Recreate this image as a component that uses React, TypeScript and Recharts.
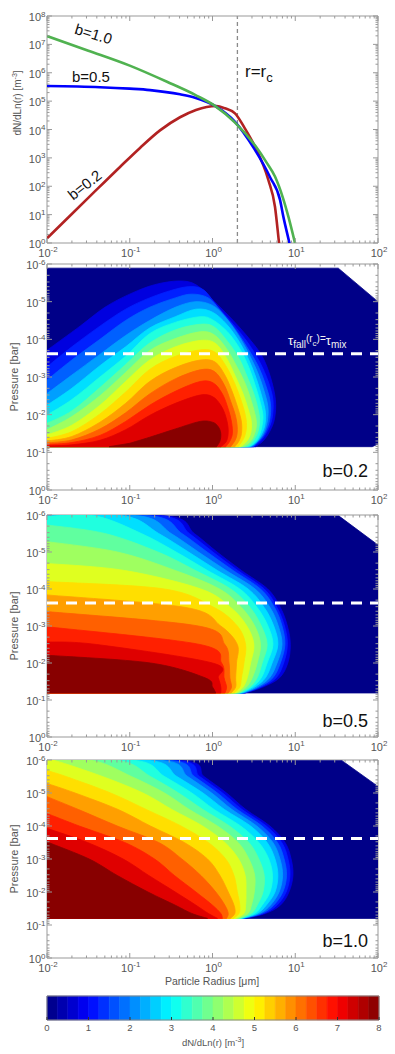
import React from 'react';
import { ComposedChart, Scatter, XAxis, YAxis, ReferenceArea } from 'recharts';

const FONT = '"Liberation Sans", Arial, Helvetica, sans-serif';
const LABEL = '#555';
const AXIS = '#999';
const _ = null;

// ---------------- Top panel: size distributions (r [um], dN/dLn(r) [m^-3]) ----------------
const rB10 = [0.01, 0.0316, 0.1, 0.282, 0.617, 1.07, 1.86, 3.31, 4.47, 5.69, 7.08, 8.26, 9.93, 10.7];
const nB10 = [1.97e7, 6.0e6, 1.78e6, 4.8e5, 1.66e5, 6.8e4, 1.78e4, 2.6e3, 7.1e2, 2.2e2, 40, 8.5, 1, 0.4];
const rB05 = [0.01, 0.0437, 0.1, 0.176, 0.405, 0.615, 1.07, 1.86, 3.16, 5.0, 6.55, 7.18, 8.5, 9.1];
const nB05 = [3.4e5, 3.1e5, 2.75e5, 2.45e5, 1.74e5, 1.32e5, 6.8e4, 1.9e4, 2.2e3, 200, 33, 8.5, 1, 0.4];
const rB02 = [0.01, 0.0178, 0.0331, 0.0762, 0.133, 0.232, 0.405, 0.631, 0.851, 1.12, 1.41, 1.87, 2.45, 3.27, 4.73, 5.69, 6.37, 6.6];
const nB02 = [1.46, 7.6, 44.7, 479, 2.24e3, 9.3e3, 2.7e4, 4.9e4, 6.2e4, 6.7e4, 5.6e4, 3.7e4, 1.12e4, 2.45e3, 166, 19, 1, 0.4];
const rCrit = 2.0;

// ---------------- Contour panels (log10 r [um], log10 P [bar]) ----------------
const levels = [0.5, 1, 1.5, 2, 2.5, 3, 3.5, 4, 4.5, 5, 5.5, 6, 6.5, 7, 7.5];
const tauLogP = -3.62;

// b = 0.2 : arch-shaped contours (polygons)
const b02Base = [[-2, -5.89], [1.52, -5.89], [2, -5.0], [2, -1.22], [1.93, -1.15], [-2, -1.15]];
const b02Contours = [
  [[-2,-1.15],[-2,-3.71],[-1.6,-4.35],[-1.3,-4.85],[-1.0,-5.2],[-0.7,-5.45],[-0.4,-5.55],[-0.2,-5.45],[0.0,-5.05],[0.25,-4.5],[0.45,-4.0],[0.6,-3.55],[0.7,-3.0],[0.76,-2.4],[0.75,-1.9],[0.69,-1.55],[0.61,-1.3],[0.52,-1.15]],
  [[-2,-1.15],[-2,-3.27],[-1.7,-3.8],[-1.36,-4.35],[-1.05,-4.8],[-0.76,-5.1],[-0.45,-5.33],[-0.25,-5.4],[-0.1,-5.3],[0.05,-4.9],[0.25,-4.4],[0.43,-3.9],[0.57,-3.4],[0.67,-2.9],[0.73,-2.4],[0.72,-1.9],[0.66,-1.55],[0.58,-1.3],[0.50,-1.15]],
  [[-2,-1.15],[-2,-2.92],[-1.7,-3.45],[-1.36,-4.0],[-1.05,-4.5],[-0.76,-4.85],[-0.45,-5.1],[-0.25,-5.2],[-0.05,-5.1],[0.1,-4.75],[0.28,-4.25],[0.43,-3.75],[0.55,-3.3],[0.64,-2.8],[0.7,-2.3],[0.69,-1.85],[0.63,-1.5],[0.56,-1.3],[0.49,-1.15]],
  [[-2,-1.15],[-2,-2.56],[-1.7,-3.05],[-1.36,-3.6],[-1.05,-4.1],[-0.76,-4.5],[-0.45,-4.85],[-0.2,-5.0],[0.0,-4.9],[0.15,-4.6],[0.3,-4.15],[0.43,-3.65],[0.54,-3.15],[0.62,-2.65],[0.67,-2.2],[0.66,-1.8],[0.61,-1.48],[0.54,-1.28],[0.47,-1.15]],
  [[-2,-1.15],[-2,-2.25],[-1.7,-2.7],[-1.36,-3.3],[-1.05,-3.8],[-0.76,-4.3],[-0.45,-4.6],[-0.2,-4.8],[0.0,-4.72],[0.17,-4.4],[0.32,-3.95],[0.44,-3.45],[0.53,-2.95],[0.6,-2.45],[0.64,-2.05],[0.63,-1.7],[0.58,-1.43],[0.52,-1.25],[0.45,-1.15]],
  [[-2,-1.15],[-2,-1.99],[-1.7,-2.4],[-1.36,-3.0],[-1.05,-3.55],[-0.76,-4.15],[-0.45,-4.45],[-0.15,-4.6],[0.0,-4.52],[0.18,-4.2],[0.33,-3.75],[0.44,-3.25],[0.52,-2.75],[0.58,-2.3],[0.61,-1.95],[0.59,-1.62],[0.55,-1.38],[0.49,-1.22],[0.43,-1.15]],
  [[-2,-1.15],[-2,-1.77],[-1.7,-2.1],[-1.36,-2.72],[-1.05,-3.33],[-0.76,-3.9],[-0.45,-4.25],[-0.15,-4.4],[0.02,-4.33],[0.18,-3.95],[0.32,-3.5],[0.42,-3.0],[0.5,-2.55],[0.55,-2.15],[0.57,-1.85],[0.55,-1.55],[0.5,-1.33],[0.45,-1.2],[0.40,-1.15]],
  [[-2,-1.15],[-2,-1.60],[-1.7,-1.95],[-1.36,-2.5],[-1.05,-3.12],[-0.76,-3.7],[-0.45,-4.02],[-0.15,-4.2],[0.02,-4.12],[0.17,-3.75],[0.3,-3.25],[0.4,-2.8],[0.47,-2.35],[0.52,-1.95],[0.53,-1.7],[0.5,-1.45],[0.45,-1.27],[0.37,-1.15]],
  [[-2,-1.15],[-2,-1.46],[-1.7,-1.72],[-1.36,-2.25],[-1.05,-2.88],[-0.76,-3.45],[-0.45,-3.8],[-0.15,-3.97],[0.03,-3.9],[0.17,-3.5],[0.28,-3.0],[0.37,-2.55],[0.43,-2.15],[0.47,-1.8],[0.46,-1.5],[0.41,-1.28],[0.34,-1.15]],
  [[-2,-1.15],[-2,-1.37],[-1.7,-1.55],[-1.36,-2.02],[-1.05,-2.6],[-0.76,-3.2],[-0.45,-3.55],[-0.15,-3.72],[0.03,-3.66],[0.16,-3.3],[0.27,-2.82],[0.35,-2.35],[0.4,-1.95],[0.41,-1.65],[0.38,-1.38],[0.31,-1.15]],
  [[-2,-1.15],[-2,-1.30],[-1.7,-1.42],[-1.36,-1.8],[-1.05,-2.3],[-0.76,-2.88],[-0.45,-3.25],[-0.15,-3.45],[0.03,-3.4],[0.15,-3.05],[0.24,-2.6],[0.31,-2.15],[0.35,-1.8],[0.35,-1.5],[0.32,-1.3],[0.27,-1.15]],
  [[-2,-1.15],[-2,-1.25],[-1.7,-1.33],[-1.36,-1.62],[-1.05,-2.05],[-0.76,-2.55],[-0.45,-2.95],[-0.15,-3.19],[0.02,-3.15],[0.14,-2.8],[0.22,-2.35],[0.28,-1.95],[0.3,-1.6],[0.28,-1.35],[0.22,-1.15]],
  [[-2,-1.15],[-2,-1.21],[-1.7,-1.26],[-1.36,-1.45],[-1.05,-1.82],[-0.76,-2.25],[-0.45,-2.62],[-0.15,-2.88],[0.01,-2.84],[0.12,-2.55],[0.19,-2.15],[0.23,-1.8],[0.24,-1.5],[0.21,-1.3],[0.16,-1.15]],
  [[-2,-1.15],[-2,-1.17],[-1.7,-1.2],[-1.36,-1.32],[-1.05,-1.6],[-0.76,-1.98],[-0.45,-2.3],[-0.15,-2.52],[0.0,-2.48],[0.1,-2.25],[0.16,-1.95],[0.19,-1.6],[0.17,-1.3],[0.1,-1.15]],
  [[-1.25,-1.15],[-1.0,-1.24],[-0.76,-1.4],[-0.45,-1.62],[-0.15,-1.82],[0.0,-1.8],[0.07,-1.68],[0.1,-1.5],[0.09,-1.3],[0.05,-1.15]],
];

// b = 0.5 : crossing radius (log r) of each level along pressure rows
const b05Base = [[-2, -5.97], [1.53, -5.97], [2, -5.19], [2, -1.19], [-2, -1.19]];
const b05RowLogP = [-5.97, -5.5, -5.0, -4.5, -4.0, -3.5, -3.0, -2.5, -2.0, -1.6, -1.35, -1.19];
const b05EntryLogP = [_, _, _, _, _, _, -5.73, -5.28, -4.69, -4.20, -3.84, -3.39, -2.98, -2.57, -2.21];
const b05LogR = [
  [-0.54, -0.22, 0.055, 0.35, 0.667, 0.82, 0.905, 0.94, 0.91, 0.81, 0.61, 0.395],
  [-0.60, -0.28, 0.005, 0.305, 0.625, 0.78, 0.87, 0.905, 0.86, 0.77, 0.59, 0.39],
  [-0.72, -0.37, -0.065, 0.25, 0.58, 0.75, 0.84, 0.875, 0.82, 0.73, 0.565, 0.38],
  [-0.87, -0.50, -0.17, 0.165, 0.515, 0.695, 0.795, 0.84, 0.78, 0.69, 0.54, 0.37],
  [-1.06, -0.65, -0.29, 0.06, 0.43, 0.625, 0.74, 0.79, 0.72, 0.64, 0.51, 0.355],
  [-1.41, -0.86, -0.44, -0.06, 0.33, 0.54, 0.67, 0.73, 0.66, 0.59, 0.48, 0.34],
  [_, -1.30, -0.66, -0.205, 0.22, 0.455, 0.59, 0.66, 0.60, 0.54, 0.45, 0.325],
  [_, _, -1.15, -0.45, 0.085, 0.35, 0.51, 0.58, 0.54, 0.48, 0.41, 0.31],
  [_, _, _, -1.06, -0.14, 0.22, 0.415, 0.50, 0.46, 0.42, 0.37, 0.285],
  [_, _, _, _, -0.58, 0.02, 0.30, 0.40, 0.38, 0.35, 0.33, 0.26],
  [_, _, _, _, _, -0.32, 0.10, 0.30, 0.29, 0.28, 0.28, 0.225],
  [_, _, _, _, _, _, -0.17, 0.15, 0.20, 0.21, 0.23, 0.19],
  [_, _, _, _, _, _, _, -0.15, 0.11, 0.14, 0.17, 0.15],
  [_, _, _, _, _, _, _, -1.4, 0.0, 0.07, 0.10, 0.10],
  [_, _, _, _, _, _, _, _, -0.75, -0.09, 0.0, 0.04],
];

// b = 1.0
const b10Base = [[-2, -5.98], [1.565, -5.98], [2, -5.2], [2, -1.2], [-2, -1.2]];
const b10RowLogP = [-5.98, -5.5, -5.0, -4.5, -4.0, -3.5, -3.0, -2.5, -2.0, -1.6, -1.35, -1.2];
const b10EntryLogP = [_, _, _, _, _, _, _, _, _, -5.68, -5.29, -4.89, -4.38, -3.93, -3.53];
const b10LogR = [
  [-0.357, -0.103, 0.17, 0.403, 0.694, 0.877, 0.95, 0.972, 0.924, 0.82, 0.64, 0.395],
  [-0.415, -0.155, 0.122, 0.358, 0.651, 0.837, 0.912, 0.936, 0.89, 0.78, 0.62, 0.385],
  [-0.49, -0.22, 0.06, 0.30, 0.598, 0.786, 0.865, 0.895, 0.85, 0.74, 0.595, 0.375],
  [-0.585, -0.30, -0.01, 0.235, 0.535, 0.73, 0.815, 0.847, 0.805, 0.70, 0.57, 0.365],
  [-0.74, -0.43, -0.115, 0.145, 0.46, 0.66, 0.755, 0.79, 0.755, 0.65, 0.54, 0.355],
  [-0.91, -0.58, -0.25, 0.02, 0.34, 0.56, 0.68, 0.725, 0.695, 0.60, 0.51, 0.345],
  [-1.12, -0.75, -0.41, -0.115, 0.205, 0.44, 0.56, 0.625, 0.61, 0.54, 0.47, 0.33],
  [-1.44, -0.98, -0.58, -0.28, 0.06, 0.31, 0.44, 0.51, 0.505, 0.47, 0.43, 0.31],
  [-1.90, -1.33, -0.84, -0.49, -0.12, 0.15, 0.315, 0.395, 0.405, 0.40, 0.38, 0.28],
  [_, -1.77, -1.23, -0.80, -0.38, -0.05, 0.16, 0.26, 0.30, 0.33, 0.32, 0.25],
  [_, _, -1.66, -1.14, -0.75, -0.34, -0.06, 0.09, 0.19, 0.26, 0.27, 0.215],
  [_, _, _, -1.62, -1.15, -0.65, -0.37, -0.14, 0.04, 0.15, 0.19, 0.17],
  [_, _, _, _, -1.61, -1.06, -0.70, -0.46, -0.20, 0.0, 0.10, 0.12],
  [_, _, _, _, _, -1.51, -1.08, -0.77, -0.45, -0.20, -0.05, 0.06],
  [_, _, _, _, _, -1.98, -1.49, -1.15, -0.78, -0.45, -0.25, -0.06],
];

// colour bar
const colorbarSteps = [0, 0.25, 0.5, 0.75, 1, 1.25, 1.5, 1.75, 2, 2.25, 2.5, 2.75, 3, 3.25, 3.5, 3.75, 4, 4.25, 4.5, 4.75, 5, 5.25, 5.5, 5.75, 6, 6.25, 6.5, 6.75, 7, 7.25, 7.5, 7.75];
const colorbarTicks = [0, 1, 2, 3, 4, 5, 6, 7, 8];

// ---------------- helpers ----------------
const jet = (t: number) => {
  const c = (v: number) => Math.round(255 * Math.max(0, Math.min(1, 1.5 - Math.abs(v))));
  return `rgb(${c(4 * t - 3)},${c(4 * t - 2)},${c(4 * t - 1)})`;
};
const levelColor = (L: number) => (L >= 7.5 ? 'rgb(136,0,0)' : jet((L + 0.25) / 8));
const NAVY = 'rgb(0,0,136)';

const logTicks = (decs: number[]) => {
  const out: number[] = [];
  decs.forEach((d, i) => {
    out.push(Math.pow(10, d));
    if (i < decs.length - 1) for (let m = 2; m <= 9; m++) out.push(m * Math.pow(10, d));
  });
  return out;
};
const rTicks = logTicks([-2, -1, 0, 1, 2]);
const nTicks = logTicks([0, 1, 2, 3, 4, 5, 6, 7, 8]);
const pTicks = logTicks([-6, -5, -4, -3, -2, -1, 0]);

const toXY = (pts: number[][]) => pts.map(([lr, lp]) => ({ x: Math.pow(10, lr), y: Math.pow(10, lp) }));
const series = (xs: number[], ys: number[]) => xs.map((x, i) => ({ x, y: ys[i] }));

function tablePolys(rows: number[], entry: (number | null)[], cross: (number | null)[][]) {
  const top = rows[0];
  const bottom = rows[rows.length - 1];
  return cross.map((row, i) => {
    const pts: number[][] = [[-2, bottom], [-2, entry[i] === null ? top : (entry[i] as number)]];
    row.forEach((c, j) => {
      if (c !== null) pts.push([c, rows[j]]);
    });
    return pts;
  });
}

const isMajor = (v: number) => Math.abs(Math.log10(v) - Math.round(Math.log10(v))) < 1e-6;

function makeTick(side: string, showLabel: boolean) {
  return (p: any) => {
    const x = Number(p.x);
    const y = Number(p.y);
    const v = Number(p.payload && p.payload.value);
    const major = isMajor(v);
    const len = major ? 5 : 2.5;
    let l;
    if (side === 'bottom') l = <line x1={x} y1={y} x2={x} y2={y - len} stroke={AXIS} strokeWidth={1} />;
    else if (side === 'top') l = <line x1={x} y1={y} x2={x} y2={y + len} stroke={AXIS} strokeWidth={1} />;
    else if (side === 'left') l = <line x1={x} y1={y} x2={x + len} y2={y} stroke={AXIS} strokeWidth={1} />;
    else l = <line x1={x} y1={y} x2={x - len} y2={y} stroke={AXIS} strokeWidth={1} />;
    let label = null;
    if (showLabel && major) {
      const e = Math.round(Math.log10(v));
      if (side === 'bottom')
        label = (
          <text x={x + 1} y={y + 14} textAnchor="middle" fill={LABEL} fontSize={11} fontFamily={FONT}>
            10<tspan dy={-5} fontSize={8}>{String(e)}</tspan>
          </text>
        );
      else if (side === 'left')
        label = (
          <text x={x - 1.5} y={y + 5} textAnchor="end" fill={LABEL} fontSize={11} fontFamily={FONT}>
            10<tspan dy={-4.5} fontSize={8}>{String(e)}</tspan>
          </text>
        );
    }
    return (
      <g>
        {l}
        {label}
      </g>
    );
  };
}

const noShape = () => <g />;

function axisSet(yDomain: number[], yTicks: number[], reversed: boolean) {
  return [
    <XAxis key="xb" xAxisId="b" dataKey="x" type="number" scale="log" domain={[0.01, 100]} allowDataOverflow ticks={rTicks} interval={0} tickSize={0} tickMargin={0} tickLine={false} height={1} axisLine={{ stroke: AXIS }} tick={makeTick('bottom', true)} />,
    <XAxis key="xt" xAxisId="t" orientation="top" dataKey="x" type="number" scale="log" domain={[0.01, 100]} allowDataOverflow ticks={rTicks} interval={0} tickSize={0} tickMargin={0} tickLine={false} height={1} axisLine={{ stroke: AXIS }} tick={makeTick('top', false)} />,
    <YAxis key="yl" yAxisId="l" dataKey="y" type="number" scale="log" domain={yDomain} reversed={reversed} allowDataOverflow ticks={yTicks} interval={0} tickSize={0} tickMargin={0} tickLine={false} width={1} axisLine={{ stroke: AXIS }} tick={makeTick('left', true)} />,
    <YAxis key="yr" yAxisId="r" orientation="right" dataKey="y" type="number" scale="log" domain={yDomain} reversed={reversed} allowDataOverflow ticks={yTicks} interval={0} tickSize={0} tickMargin={0} tickLine={false} width={1} axisLine={{ stroke: AXIS }} tick={makeTick('right', false)} />,
  ];
}

// closed polygon through library-scaled points; smooth (Catmull-Rom) from index s on
function polyPath(pts: { x: number; y: number }[], s: number) {
  if (!pts || pts.length === 0) return '';
  let d = `M${pts[0].x},${pts[0].y}`;
  const n = pts.length;
  const start = Math.min(s, n - 1);
  for (let i = 1; i <= start; i++) d += `L${pts[i].x},${pts[i].y}`;
  for (let i = start; i < n - 1; i++) {
    const p0 = pts[Math.max(i - 1, start)];
    const p1 = pts[i];
    const p2 = pts[i + 1];
    const p3 = pts[Math.min(i + 2, n - 1)];
    const c1x = p1.x + (p2.x - p0.x) / 6;
    const c1y = p1.y + (p2.y - p0.y) / 6;
    const c2x = p2.x - (p3.x - p1.x) / 6;
    const c2y = p2.y - (p3.y - p1.y) / 6;
    d += `C${c1x},${c1y} ${c2x},${c2y} ${p2.x},${p2.y}`;
  }
  return d + 'Z';
}

function polyScatter(key: string, pts: number[][], color: string, smoothFrom: number) {
  return (
    <Scatter
      key={key}
      xAxisId="b"
      yAxisId="l"
      data={toXY(pts)}
      fill={color}
      line={(lp: any) => <path d={polyPath(lp.points, smoothFrom)} fill={color} stroke={color} strokeWidth={0.8} />}
      lineType="joint"
      shape={noShape}
      isAnimationActive={false}
      legendType="none"
    />
  );
}

function ContourPanel({ top, mTop, plotH, base, polys }: { top: number; mTop: number; plotH: number; base: number[][]; polys: number[][][] }) {
  const tau = Math.pow(10, tauLogP);
  return (
    <div style={{ position: 'absolute', left: 0, top }}>
      <ComposedChart width={395} height={mTop + plotH + 24} margin={{ top: mTop - 1, right: 16, bottom: 23, left: 46 }}>
        {axisSet([1e-6, 1], pTicks, true)}
        {polyScatter('base', base, NAVY, 99)}
        {polys.map((p, i) => polyScatter('c' + i, p, levelColor(levels[i]), 1))}
        <Scatter
          xAxisId="b"
          yAxisId="l"
          data={[{ x: 0.01, y: tau }, { x: 100, y: tau }]}
          fill="#fff"
          line={{ stroke: '#ffffff', strokeWidth: 3, strokeDasharray: '11 8', fill: 'none' }}
          lineType="joint"
          shape={noShape}
          isAnimationActive={false}
          legendType="none"
        />
      </ComposedChart>
    </div>
  );
}

function Colorbar() {
  const cbTick = (p: any) => {
    const x = Number(p.x);
    const y = Number(p.y);
    return (
      <text x={x} y={y + 11} textAnchor="middle" fill={LABEL} fontSize={9.5} fontFamily={FONT}>
        {String(p.payload.value)}
      </text>
    );
  };
  return (
    <div style={{ position: 'absolute', left: 0, top: 990 }}>
      <ComposedChart width={395} height={50} margin={{ top: 6, right: 16, bottom: 19, left: 47 }}>
        <XAxis type="number" dataKey="x" domain={[0, 8]} ticks={colorbarTicks} interval={0} tickSize={0} tickMargin={0} tickLine={false} height={1} axisLine={false} tick={cbTick} />
        <YAxis type="number" dataKey="y" domain={[0, 1]} hide width={0} />
        {colorbarSteps.map((a) => (
          <ReferenceArea key={a} x1={a} x2={a + 0.25} y1={0} y2={1} fill={jet((a + 0.125) / 8)} fillOpacity={1} stroke={jet((a + 0.125) / 8)} strokeWidth={0.6} />
        ))}
        <ReferenceArea x1={0} x2={8} y1={0} y2={1} fill="none" fillOpacity={0} stroke="#888" strokeWidth={1} />
        <Scatter data={colorbarTicks.map((t) => ({ x: t, y: 0 }))} shape={(p: any) => <line x1={p.cx} y1={p.cy} x2={p.cx} y2={p.cy - 3} stroke="#333" strokeWidth={1} />} isAnimationActive={false} legendType="none" />
      </ComposedChart>
    </div>
  );
}

export default function App() {
  const b05Polys = tablePolys(b05RowLogP, b05EntryLogP, b05LogR);
  const b10Polys = tablePolys(b10RowLogP, b10EntryLogP, b10LogR);
  const lineSeries = [
    { d: series(rB02, nB02), c: 'rgb(178,34,34)' },
    { d: series(rB05, nB05), c: 'rgb(0,0,255)' },
    { d: series(rB10, nB10), c: 'rgb(80,178,80)' },
  ];
  return (
    <div style={{ position: 'absolute', left: 0, top: 0, width: 395, height: 1054, background: '#fff', fontFamily: FONT }}>
      <div style={{ position: 'absolute', left: 0, top: 0 }}>
        <ComposedChart width={395} height={270} margin={{ top: 15, right: 16, bottom: 26, left: 46 }}>
          {axisSet([1, 1e8], nTicks, false)}
          <Scatter
            xAxisId="b"
            yAxisId="l"
            data={[{ x: rCrit, y: 1 }, { x: rCrit, y: 1e8 }]}
            fill="#888"
            line={{ stroke: '#8a8a8a', strokeWidth: 1.3, strokeDasharray: '4 3' }}
            lineType="joint"
            shape={noShape}
            isAnimationActive={false}
            legendType="none"
          />
          {lineSeries.map((s, i) => (
            <Scatter
              key={i}
              xAxisId="b"
              yAxisId="l"
              data={s.d}
              fill={s.c}
              line={{ stroke: s.c, strokeWidth: 2.6, fill: 'none' }}
              lineType="joint"
              lineJointType="monotoneX"
              shape={noShape}
              isAnimationActive={false}
              legendType="none"
            />
          ))}
        </ComposedChart>
      </div>
      <ContourPanel top={250} mTop={14} plotH={226} base={b02Base} polys={b02Contours} />
      <ContourPanel top={505} mTop={10} plotH={222} base={b05Base} polys={b05Polys} />
      <ContourPanel top={750} mTop={10} plotH={198} base={b10Base} polys={b10Polys} />
      <Colorbar />
      <svg width={395} height={1054} style={{ position: 'absolute', left: 0, top: 0, pointerEvents: 'none' }} fontFamily={FONT}>
        <text transform="translate(21,103) rotate(-90)" textAnchor="middle" fontSize={10} fill={LABEL}>
          dN/dLn(r) [m<tspan dy={-4} fontSize={7}>-3</tspan><tspan dy={4}>]</tspan>
        </text>
        {[377, 626, 859].map((cy) => (
          <text key={cy} transform={`translate(18,${cy}) rotate(-90)`} textAnchor="middle" fontSize={11} fill={LABEL}>
            Pressure [bar]
          </text>
        ))}
        <text x={212} y={985} textAnchor="middle" fontSize={10.5} fill={LABEL}>
          Particle Radius [μm]
        </text>
        <text x={213} y={1046} textAnchor="middle" fontSize={9.5} fill={LABEL}>
          dN/dLn(r) [m<tspan dy={-4} fontSize={7}>-3</tspan><tspan dy={4}>]</tspan>
        </text>
        <text x={245} y={77} fontSize={17} fill="#111">
          r=r<tspan dy={5} fontSize={13}>c</tspan>
        </text>
        <text transform="translate(92,39) rotate(17)" textAnchor="middle" fontSize={15} fill="#111">
          b=1.0
        </text>
        <text x={72} y={82} fontSize={15} fill="#111">
          b=0.5
        </text>
        <text transform="translate(88,189) rotate(-38)" textAnchor="middle" fontSize={15} fill="#111">
          b=0.2
        </text>
        <text x={368} y={477} textAnchor="end" fontSize={18} fill="#111">b=0.2</text>
        <text x={368} y={727} textAnchor="end" fontSize={18} fill="#111">b=0.5</text>
        <text x={368} y={947} textAnchor="end" fontSize={18} fill="#111">b=1.0</text>
        <text x={288} y={345} fontSize={13} fill="#f2f2f2">
          τ<tspan fontSize={10} dy={3}>fall</tspan>
          <tspan fontSize={10} dy={-6}>(r</tspan>
          <tspan fontSize={8} dy={4}>c</tspan>
          <tspan fontSize={10} dy={-4}>)=</tspan>
          <tspan fontSize={13} dy={3}>τ</tspan>
          <tspan fontSize={10} dy={3}>mix</tspan>
        </text>
      </svg>
    </div>
  );
}
